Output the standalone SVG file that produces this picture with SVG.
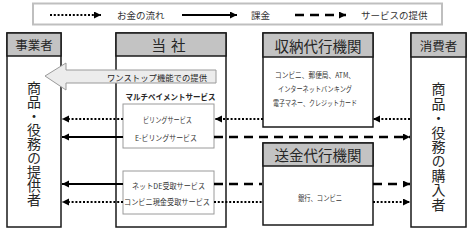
<svg xmlns="http://www.w3.org/2000/svg" width="470" height="230" viewBox="0 0 470 230">
<defs>
<style>
text{font-family:"Noto Sans CJK JP","Noto Sans",sans-serif;fill:#262626}
.box{fill:#fff;stroke:#1a1a1a;stroke-width:1.5}
.hdr{fill:#c3c3c3;stroke:#1a1a1a;stroke-width:1.5}
.inner{fill:#fff;stroke:#9a9a9a;stroke-width:1}
.ht{font-size:14.5px;text-anchor:middle;dominant-baseline:central}
.hs{font-size:12.5px;text-anchor:middle;dominant-baseline:central}
.st{font-size:7.5px;text-anchor:middle;dominant-baseline:central;fill:#333}
.vt{font-size:14px;writing-mode:vertical-rl;text-orientation:upright}
.lg{font-size:9.5px;dominant-baseline:central;fill:#333}
.dot{stroke:#000;stroke-width:2.2;stroke-dasharray:2 1.8;fill:none}
.sol{stroke:#000;stroke-width:2;fill:none}
.dash{stroke:#000;stroke-width:2.5;stroke-dasharray:9 6;fill:none}
</style>
<marker id="ah" markerUnits="userSpaceOnUse" markerWidth="8" markerHeight="8" refX="7" refY="3.5" orient="auto">
<path d="M0,0 L7,3.5 L0,7 z" fill="#000"/>
</marker>
</defs>
<rect width="470" height="230" fill="#fff"/>

<g id="legend">
<rect x="33" y="3.5" width="409" height="21" fill="#fff" stroke="#bfbfbf" stroke-width="2"/>
<line class="dot" x1="50" y1="15" x2="101" y2="15" marker-end="url(#ah)"/>
<text class="lg" x="117" y="15">お金の流れ</text>
<line class="sol" x1="182" y1="15" x2="237" y2="15" marker-end="url(#ah)"/>
<text class="lg" x="251" y="15">課金</text>
<line class="dash" x1="295" y1="15" x2="346" y2="15" stroke-dasharray="9 5" marker-end="url(#ah)"/>
<text class="lg" x="361" y="15">サービスの提供</text>
</g>

<g id="jigyosha">
<rect class="box" x="7" y="33" width="54" height="194"/>
<rect class="hdr" x="7" y="33" width="54" height="23"/>
<text class="hs" x="34" y="44.5">事業者</text>
<text class="vt" x="34" y="81">商品・役務の提供者</text>
</g>

<g id="tousha">
<rect class="box" x="116" y="33" width="110" height="194"/>
<rect class="hdr" x="116" y="33" width="110" height="23"/>
<text class="ht" x="171" y="44.5" letter-spacing="5">当社</text>
<text x="170.5" y="96" font-size="8" font-weight="bold" text-anchor="middle" dominant-baseline="central" fill="#111" textLength="90" lengthAdjust="spacingAndGlyphs">マルチペイメントサービス</text>
</g>

<g id="billing">
<rect class="inner" x="123" y="104" width="91" height="44"/>
<text class="st" x="167.5" y="119" textLength="49" lengthAdjust="spacingAndGlyphs">ビリングサービス</text>
<text class="st" x="166" y="137" textLength="62" lengthAdjust="spacingAndGlyphs">E-ビリングサービス</text>
</g>

<g id="uketori">
<rect class="inner" x="123" y="171" width="91" height="43"/>
<text class="st" x="168.5" y="185.5" textLength="73" lengthAdjust="spacingAndGlyphs">ネットDE受取サービス</text>
<text class="st" x="167" y="201" textLength="86" lengthAdjust="spacingAndGlyphs">コンビニ現金受取サービス</text>
</g>

<g id="shuno">
<rect class="box" x="263" y="33" width="110" height="94"/>
<rect class="hdr" x="263" y="33" width="110" height="24"/>
<text class="ht" x="318" y="45">収納代行機関</text>
<text class="st" x="315" y="74" textLength="80" lengthAdjust="spacingAndGlyphs">コンビニ、郵便局、ATM、</text>
<text class="st" x="315" y="88" textLength="74" lengthAdjust="spacingAndGlyphs">インターネットバンキング</text>
<text class="st" x="315" y="102" textLength="84" lengthAdjust="spacingAndGlyphs">電子マネー、クレジットカード</text>
</g>

<g id="sokin">
<rect class="box" x="263" y="143" width="110" height="82"/>
<rect class="hdr" x="263" y="143" width="110" height="23"/>
<text class="ht" x="318" y="154.5">送金代行機関</text>
<text class="st" x="320" y="197" textLength="44" lengthAdjust="spacingAndGlyphs">銀行、コンビニ</text>
</g>

<g id="shohisha">
<rect class="box" x="411" y="33" width="55" height="194"/>
<rect class="hdr" x="411" y="33" width="55" height="24"/>
<text class="hs" x="438.5" y="45">消費者</text>
<text class="vt" x="438.5" y="82" letter-spacing="0.4">商品・役務の購入者</text>
</g>

<g id="onestop">
<path d="M45,76 L66,63 L66,70 L216,70 L216,83 L66,83 L66,90 Z" fill="#ececec" stroke="#9a9a9a" stroke-width="1"/>
<text x="157" y="76.5" font-size="8.5" text-anchor="middle" dominant-baseline="central" fill="#333" textLength="100" lengthAdjust="spacingAndGlyphs">ワンストップ機能での提供</text>
</g>

<g id="connectors">
<line class="dot" x1="123" y1="119" x2="62" y2="119" marker-end="url(#ah)"/>
<line class="sol" x1="123" y1="137" x2="62" y2="137" marker-end="url(#ah)"/>
<line class="sol" x1="123" y1="184" x2="62" y2="184" marker-end="url(#ah)"/>
<line class="dot" x1="123" y1="202" x2="62" y2="202" marker-end="url(#ah)"/>
<line class="dot" x1="263" y1="119" x2="215" y2="119" marker-end="url(#ah)"/>
<line class="dot" x1="410" y1="119" x2="373" y2="119" marker-end="url(#ah)"/>
<line class="dash" x1="214" y1="137" x2="410" y2="137" stroke-dasharray="12 6 9 6" marker-end="url(#ah)"/>
<line class="dash" x1="214" y1="184" x2="262" y2="184" stroke-dasharray="12 6 9 6"/>
<line class="dash" x1="373" y1="184" x2="410" y2="184" stroke-dasharray="12 6 9 6" marker-end="url(#ah)"/>
<line class="dot" x1="214" y1="202" x2="263" y2="202"/>
<line class="dot" x1="373" y1="202" x2="410" y2="202" marker-end="url(#ah)"/>
</g>
</svg>
